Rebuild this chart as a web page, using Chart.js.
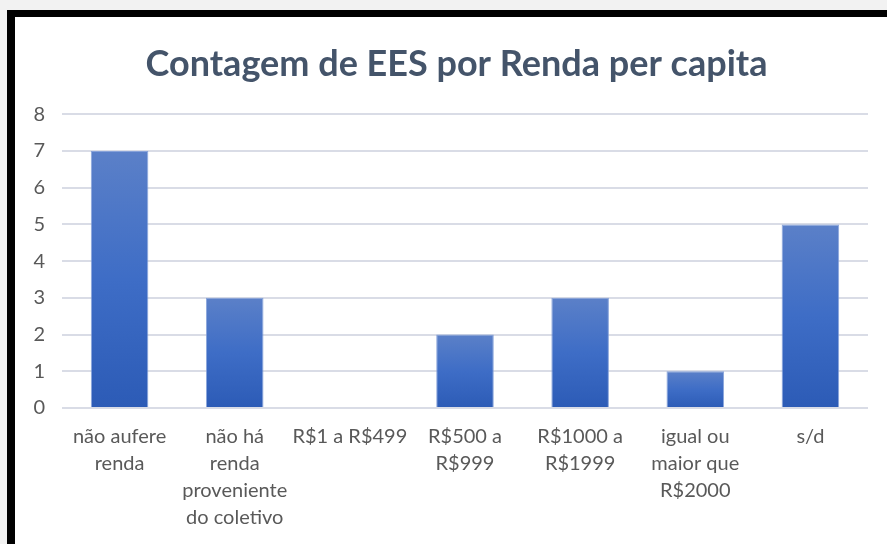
<!DOCTYPE html>
<html>
<head>
<meta charset="utf-8">
<script src="https://cdn.jsdelivr.net/npm/chart.js@4"></script>
<style>
  body { margin: 0; background: #f2f2f2; width: 887px; height: 544px; overflow: hidden; position: relative; }
  #frame { position: absolute; left: 7px; top: 10px; width: 900px; height: 560px;
           border-top: 7px solid #000; border-left: 8px solid #000; background: #fff; }
  #chartBox { position: absolute; left: 15px; top: 17px; }
</style>
</head>
<body>
<div id="frame"></div>
<div id="chartBox"><canvas id="barChart" width="872" height="527"></canvas></div>
<script>
// income brackets (multi-line labels as in the original)
const categories = [
  ['não aufere', 'renda'],
  ['não há', 'renda', 'proveniente', 'do coletivo'],
  ['R$1 a R$499'],
  ['R$500 a', 'R$999'],
  ['R$1000 a', 'R$1999'],
  ['igual ou', 'maior que', 'R$2000'],
  ['s/d']
];
const counts = [7, 3, 0, 2, 3, 1, 5];
const yTicks = [0, 1, 2, 3, 4, 5, 6, 7, 8];

// gradient per bar, lighter at the top
function barGradient(context) {
  const chart = context.chart;
  if (!chart.chartArea || context.parsed === undefined) return '#3a6ac4';
  const yScale = chart.scales.y;
  const top = yScale.getPixelForValue(context.parsed.y);
  const base = yScale.getPixelForValue(0);
  if (base - top < 1) return '#3a6ac4';
  const g = chart.ctx.createLinearGradient(0, top, 0, base);
  g.addColorStop(0, '#5b80c8');
  g.addColorStop(0.5, '#3e6dc6');
  g.addColorStop(1, '#2c5bb6');
  return g;
}

// the original title sits a bit right of the canvas centre
const titleShift = {
  id: 'titleShift',
  afterLayout(chart) {
    if (chart.titleBlock) chart.titleBlock.left = 30;
  }
};

const ctx = document.getElementById('barChart').getContext('2d');
const myChart = new Chart(ctx, {
  type: 'bar',
  data: {
    labels: categories,
    datasets: [{
      data: counts,
      backgroundColor: barGradient,
      borderColor: 'rgba(125,155,215,0.9)',
      borderWidth: 1,
      barPercentage: 0.5,
      categoryPercentage: 1
    }]
  },
  options: {
    responsive: false,
    animation: false,
    layout: { padding: { left: 0, right: 19, top: 0, bottom: 0 } },
    plugins: {
      legend: { display: false },
      tooltip: { enabled: false },
      title: {
        display: true,
        text: 'Contagem de EES por Renda per capita',
        color: '#44546a',
        font: { family: 'Lato', size: 36, weight: 'bold', lineHeight: 1.2 },
        padding: { top: 26, bottom: 28 }
      }
    },
    scales: {
      x: {
        grid: { display: false, drawTicks: false },
        border: { display: false },
        ticks: {
          color: '#595959',
          font: { family: 'Lato', size: 20, lineHeight: 1.35 },
          padding: 15,
          maxRotation: 0,
          autoSkip: false
        },
        afterFit: axis => { axis.height = 136; }
      },
      y: {
        min: 0,
        max: 8,
        afterBuildTicks: axis => { axis.ticks = yTicks.map(v => ({ value: v })); },
        grid: { color: '#d9dce6', lineWidth: 2, drawTicks: false },
        border: { display: false },
        ticks: {
          color: '#595959',
          font: { family: 'Lato', size: 20 },
          padding: 17
        },
        afterFit: axis => { axis.width = 47; }
      }
    }
  },
  plugins: [titleShift]
});
</script>
</body>
</html>
